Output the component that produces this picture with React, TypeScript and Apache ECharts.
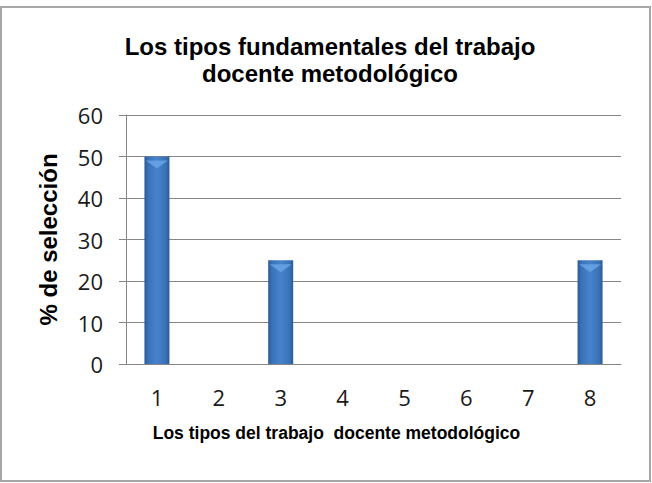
import React, { useEffect, useRef } from "react";
import * as echarts from "echarts";

const categories = ["1", "2", "3", "4", "5", "6", "7", "8"];
const values = [50, 0, 25, 0, 0, 0, 0, 25];
const titleLines = ["Los tipos fundamentales del trabajo", "docente metodológico"];
const xName = "Los tipos del trabajo  docente metodológico";
const yName = "% de selección";

export default function App() {
  const ref = useRef<HTMLDivElement>(null);
  useEffect(() => {
    document.body.style.margin = "0";
    const chart = echarts.init(ref.current!, null, { renderer: "svg" });
    const font = "'Liberation Sans', Arial, sans-serif";
    const tickFont = "'Open Sans', 'Liberation Sans', sans-serif";
    chart.setOption({
      animation: false,
      backgroundColor: "#ffffff",
      title: {
        text: titleLines.join("\n"),
        left: 325,
        textAlign: "center",
        top: 28,
        textStyle: { fontFamily: font, fontSize: 24, fontWeight: "bold", color: "#000", lineHeight: 27 },
      },
      graphic: [
        {
          type: "rect",
          shape: { x: 1, y: 7, width: 649, height: 474 },
          style: { fill: "none", stroke: "#a6a6a6", lineWidth: 2 },
        },
      ],
      grid: { left: 126, right: 31, top: 115, bottom: 119 },
      xAxis: {
        type: "category",
        data: categories,
        name: xName,
        nameLocation: "middle",
        nameGap: 60,
        nameTextStyle: {
          fontFamily: font,
          fontSize: 17.5,
          fontWeight: "bold",
          color: "#000",
          padding: [0, 74, 0, 0],
        },
        axisLine: { lineStyle: { color: "#868686" } },
        axisTick: { show: false },
        axisLabel: { fontFamily: tickFont, fontSize: 22, color: "#1a1a1a", margin: 22 },
      },
      yAxis: {
        type: "value",
        min: 0,
        max: 60,
        interval: 10,
        name: yName,
        nameLocation: "middle",
        nameGap: 66,
        nameTextStyle: { fontFamily: font, fontSize: 24, fontWeight: "bold", color: "#000" },
        axisLine: { show: true, lineStyle: { color: "#868686" } },
        axisTick: { show: true, length: 7, inside: false, lineStyle: { color: "#868686" } },
        splitLine: { lineStyle: { color: "#868686" } },
        axisLabel: { fontFamily: tickFont, fontSize: 22, color: "#1a1a1a", margin: 23 },
      },
      series: [
        {
          type: "bar",
          data: values,
          barWidth: 25,
          itemStyle: {
            color: new echarts.graphic.LinearGradient(0, 0, 1, 0, [
              { offset: 0, color: "#2b5a95" },
              { offset: 0.15, color: "#3a72b8" },
              { offset: 0.5, color: "#4683cc" },
              { offset: 0.85, color: "#3a72b8" },
              { offset: 1, color: "#2b5a95" },
            ]),
          },
        },
        {
          type: "pictorialBar",
          data: values.map((v) => (v > 0 ? v : null)),
          symbol: "triangle",
          symbolRotate: 180,
          symbolSize: [22, 8],
          symbolPosition: "end",
          symbolOffset: [0, "50%"],
          z: 3,
          itemStyle: { color: "#6aa6e6", opacity: 0.8 },
        },
      ],
    });
    return () => chart.dispose();
  }, []);
  return <div ref={ref} style={{ width: 652, height: 483 }} />;
}
